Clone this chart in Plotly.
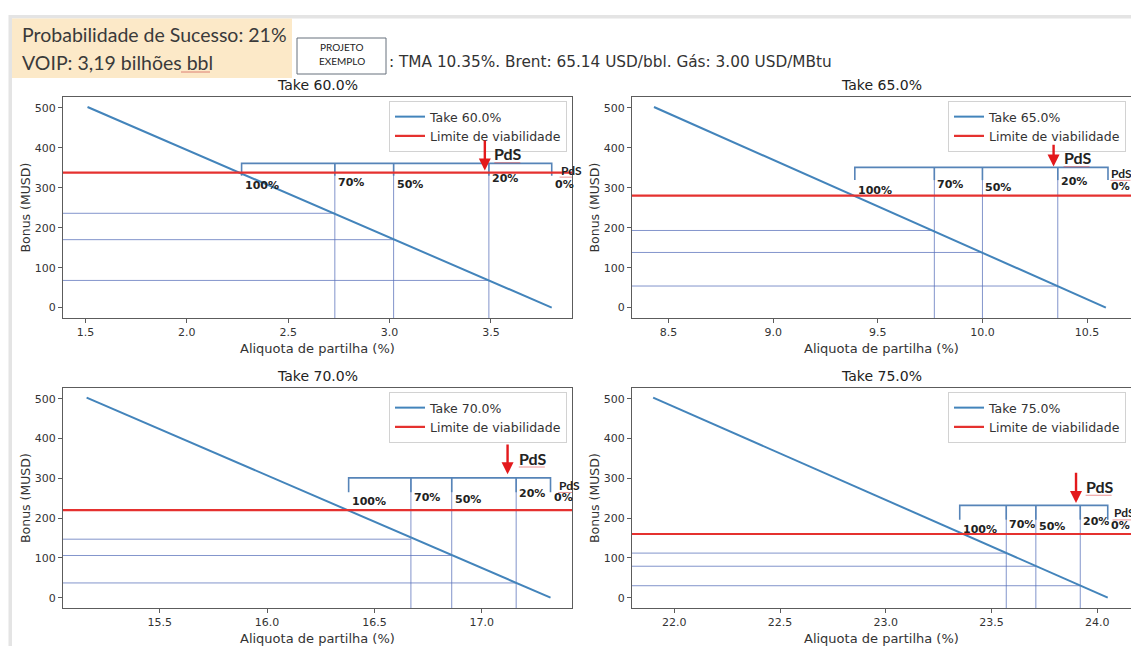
import plotly.graph_objects as go

W, H = 1131, 646

# ---------------- data ----------------
panel_titles = ["Take 60.0%", "Take 65.0%", "Take 70.0%", "Take 75.0%"]
curve_x = [[1.51, 3.80], [8.43, 10.59], [15.16, 17.32], [21.90, 24.05]]
curve_y = [[502, 0], [502, 0], [503, 0], [503, 0]]
limite_viabilidade = [338, 280, 220, 160]
pds_labels = ["100%", "70%", "50%", "20%", "0%"]
pds_aliquota = [[2.27, 2.73, 3.02, 3.49, 3.80],
                [9.39, 9.77, 10.00, 10.36, 10.60],
                [16.38, 16.67, 16.86, 17.16, 17.32],
                [23.35, 23.57, 23.71, 23.92, 24.05]]
pds_bonus = [[236, 170, 68], [193, 138, 54], [147, 106, 37], [112, 79, 30]]
pds_atual = [3.47, 10.34, 17.12, 23.90]
x_ranges = [[1.389, 3.90], [8.325, 10.71], [15.05, 17.42], [21.80, 24.16]]
x_tickvals = [[1.5, 2.0, 2.5, 3.0, 3.5], [8.5, 9.0, 9.5, 10.0, 10.5],
              [15.5, 16.0, 16.5, 17.0], [22.0, 22.5, 23.0, 23.5, 24.0]]
y_tickvals = [0, 100, 200, 300, 400, 500]
y_range = [-26, 527]
header_lines = ["Probabilidade de Sucesso: 21%", "VOIP: 3,19 bilhões bbl"]
project_name = ["PROJETO", "EXEMPLO"]
premissas = ": TMA 10.35%. Brent: 65.14 USD/bbl. Gás: 3.00 USD/MBtu"
x_label = "Aliquota de partilha (%)"
y_label = "Bonus (MUSD)"
limite_name = "Limite de viabilidade"

# ------------- annotation placement (panel data units) -------------
bracket_top = [361, 351, 301, 232]
bracket_foot = [330, 319, 265, 196]
label_y = [[305, 314, 308, 322, 309], [293, 307, 301, 315, 303],
           [242, 252, 247, 261, 251], [171, 184, 180, 191, 181]]
arrow_from = [422, 411, 389, 318]
arrow_to = [343, 353, 310, 238]
pds_text_xy = [(3.507, 385), (10.378, 375), (17.163, 351), (23.936, 280)]
pds_small_xy = [(3.834, 344), (10.607, 336), (17.351, 282), (24.068, 213)]

# panel frames in pixels (left, top, right, bottom)
frames = [(63, 97, 572, 318), (632, 97, 1131, 318),
          (63, 388, 572, 608), (632, 388, 1131, 608)]

BLUE = "#4384bb"
RED = "#e5312f"
GUIDE = "rgba(88,112,185,0.75)"
BRACKET = "#5684b8"
FRAME = "#5c5c5c"
TXT = "#333333"
FONT = "DejaVu Sans"


def px(x):
    return x / W


def py(y):
    return 1 - y / H


fig = go.Figure()
annotations = []
shapes = []
layout = {}

for i in range(4):
    n = "" if i == 0 else str(i + 1)
    xa, ya = "x" + n, "y" + n
    leg = "legend" + n
    l, t, r, b = frames[i]
    x0, x1 = x_ranges[i]
    y0, y1 = y_range
    ppx = (r - l) / (x1 - x0)
    ppy = (b - t) / (y1 - y0)
    xs = pds_aliquota[i]

    # guide lines (horizontal + vertical) for 70/50/20 %
    for k in range(3):
        xv = xs[k + 1]
        bv = pds_bonus[i][k]
        fig.add_trace(go.Scatter(x=[x0, xv], y=[bv, bv], mode="lines",
                                 line=dict(color=GUIDE, width=1), showlegend=False,
                                 hoverinfo="skip", xaxis=xa, yaxis=ya))
        fig.add_trace(go.Scatter(x=[xv, xv], y=[y0, bracket_top[i]], mode="lines",
                                 line=dict(color=GUIDE, width=1), showlegend=False,
                                 hoverinfo="skip", xaxis=xa, yaxis=ya))
    # bracket
    bx = [xs[0], xs[0], xs[-1], xs[-1]]
    byy = [bracket_foot[i], bracket_top[i], bracket_top[i], bracket_foot[i]]
    fig.add_trace(go.Scatter(x=bx, y=byy, mode="lines",
                             line=dict(color=BRACKET, width=1.6), showlegend=False,
                             hoverinfo="skip", xaxis=xa, yaxis=ya))
    for k in range(1, 4):
        fig.add_trace(go.Scatter(x=[xs[k], xs[k]], y=[bracket_foot[i], bracket_top[i]],
                                 mode="lines", line=dict(color=BRACKET, width=1.6),
                                 showlegend=False, hoverinfo="skip", xaxis=xa, yaxis=ya))

    # main curve
    fig.add_trace(go.Scatter(x=curve_x[i], y=curve_y[i], mode="lines",
                             name=panel_titles[i], line=dict(color=BLUE, width=2),
                             legend=leg, xaxis=xa, yaxis=ya))
    # viability limit
    fig.add_trace(go.Scatter(x=[x0, x1], y=[limite_viabilidade[i]] * 2, mode="lines",
                             name=limite_name, line=dict(color=RED, width=2.2),
                             legend=leg, xaxis=xa, yaxis=ya))

    axis_common = dict(showline=True, mirror=True, linecolor=FRAME, linewidth=1.2,
                       showgrid=False, zeroline=False, ticks="outside", ticklen=4,
                       tickwidth=1, tickcolor=FRAME,
                       tickfont=dict(family=FONT, size=11, color=TXT))
    layout["xaxis" + n] = dict(axis_common, domain=[px(l), px(r)], range=[x0, x1],
                               tickvals=x_tickvals[i], tickformat=".1f", anchor=ya)
    layout["yaxis" + n] = dict(axis_common, domain=[py(b), py(t)], range=[y0, y1],
                               tickvals=y_tickvals, anchor=xa)
    layout[leg] = dict(x=px(r - 5), xanchor="right", y=py(t + 4), yanchor="top",
                       bgcolor="rgba(255,255,255,0.85)", bordercolor="#d2d2d2",
                       borderwidth=1, font=dict(family=FONT, size=12.5, color=TXT),
                       itemwidth=30, tracegroupgap=0)

    # titles and axis labels
    annotations.append(dict(text=panel_titles[i], x=px((l + r) / 2), y=py(t - 12),
                            xref="paper", yref="paper", xanchor="center", yanchor="middle",
                            showarrow=False, font=dict(family=FONT, size=14, color="#222")))
    annotations.append(dict(text=x_label, x=px((l + r) / 2), y=py(b + 30),
                            xref="paper", yref="paper", xanchor="center", yanchor="middle",
                            showarrow=False, font=dict(family=FONT, size=13, color=TXT)))
    annotations.append(dict(text=y_label, x=px(l - 38), y=py((t + b) / 2),
                            xref="paper", yref="paper", xanchor="center", yanchor="middle",
                            textangle=-90, showarrow=False,
                            font=dict(family=FONT, size=12.5, color=TXT)))

    # PdS labels
    for k, lab in enumerate(pds_labels):
        annotations.append(dict(text="<b>" + lab + "</b>", x=xs[k], y=label_y[i][k],
                                xref=xa, yref=ya, xanchor="left", yanchor="middle",
                                xshift=1, showarrow=False,
                                font=dict(family=FONT, size=11, color="#222")))
    # arrow
    annotations.append(dict(text="", x=pds_atual[i], y=arrow_to[i], ax=pds_atual[i],
                            ay=arrow_from[i], xref=xa, yref=ya, axref=xa, ayref=ya,
                            showarrow=True, arrowhead=2, arrowsize=1, arrowwidth=2.4,
                            arrowcolor="#e3191c", standoff=0))
    tx, ty = pds_text_xy[i]
    annotations.append(dict(text="<b>PdS</b>", x=tx, y=ty, xref=xa, yref=ya,
                            xanchor="left", yanchor="middle", showarrow=False,
                            font=dict(family="Lato", size=16, color="#222")))
    shapes.append(dict(type="line", xref=xa, yref=ya, x0=tx + 2 / ppx, x1=tx + 28 / ppx,
                       y0=ty - 9 / ppy, y1=ty - 9 / ppy,
                       line=dict(color="rgba(220,60,60,0.55)", width=1)))
    sx, sy = pds_small_xy[i]
    annotations.append(dict(text="<b>PdS</b>", x=sx, y=sy, xref=xa, yref=ya,
                            xanchor="left", yanchor="middle", showarrow=False,
                            font=dict(family="Lato", size=12, color="#222")))
    shapes.append(dict(type="line", xref=xa, yref=ya, x0=sx + 1 / ppx, x1=sx + 21 / ppx,
                       y0=sy - 7 / ppy, y1=sy - 7 / ppy,
                       line=dict(color="rgba(220,60,60,0.55)", width=1)))

# ---------------- header ----------------
shapes += [
    dict(type="rect", xref="paper", yref="paper", x0=px(10), x1=px(1131), y0=py(18.5),
         y1=py(15), fillcolor="#e4e4e4", line=dict(width=0), layer="below"),
    dict(type="rect", xref="paper", yref="paper", x0=px(8.5), x1=px(12), y0=py(646),
         y1=py(15), fillcolor="#e4e4e4", line=dict(width=0), layer="below"),
    dict(type="rect", xref="paper", yref="paper", x0=px(12), x1=px(292), y0=py(78),
         y1=py(18.5), fillcolor="#fce9c8", line=dict(width=0), layer="below"),
    dict(type="rect", xref="paper", yref="paper", x0=px(297), x1=px(386), y0=py(74),
         y1=py(38), fillcolor="white", line=dict(color="#66717c", width=1)),
    dict(type="line", xref="paper", yref="paper", x0=px(181), x1=px(210), y0=py(72),
         y1=py(72), line=dict(color="rgba(200,60,60,0.6)", width=1)),
]
annotations += [
    dict(text=header_lines[0], x=px(20), y=py(35), xref="paper", yref="paper",
         xanchor="left", yanchor="middle", showarrow=False,
         font=dict(family="Lato", size=19.5, color="#3a3a3a")),
    dict(text=header_lines[1], x=px(20), y=py(62), xref="paper", yref="paper",
         xanchor="left", yanchor="middle", showarrow=False,
         font=dict(family="Lato", size=19.5, color="#3a3a3a")),
    dict(text=project_name[0], x=px(341.5), y=py(47), xref="paper", yref="paper",
         xanchor="center", yanchor="middle", showarrow=False,
         font=dict(family="Lato", size=10, color="#222")),
    dict(text=project_name[1], x=px(341.5), y=py(61), xref="paper", yref="paper",
         xanchor="center", yanchor="middle", showarrow=False,
         font=dict(family="Lato", size=10, color="#222")),
    dict(text=premissas, x=px(387), y=py(62), xref="paper", yref="paper",
         xanchor="left", yanchor="middle", showarrow=False,
         font=dict(family=FONT, size=15.3, color="#333")),
]

fig.update_layout(width=W, height=H, margin=dict(l=0, r=0, t=0, b=0),
                  paper_bgcolor="white", plot_bgcolor="white",
                  annotations=annotations, shapes=shapes, **layout)
fig.write_html("out.html", config={"displayModeBar": False},
               post_script="document.body.style.margin='0';")
